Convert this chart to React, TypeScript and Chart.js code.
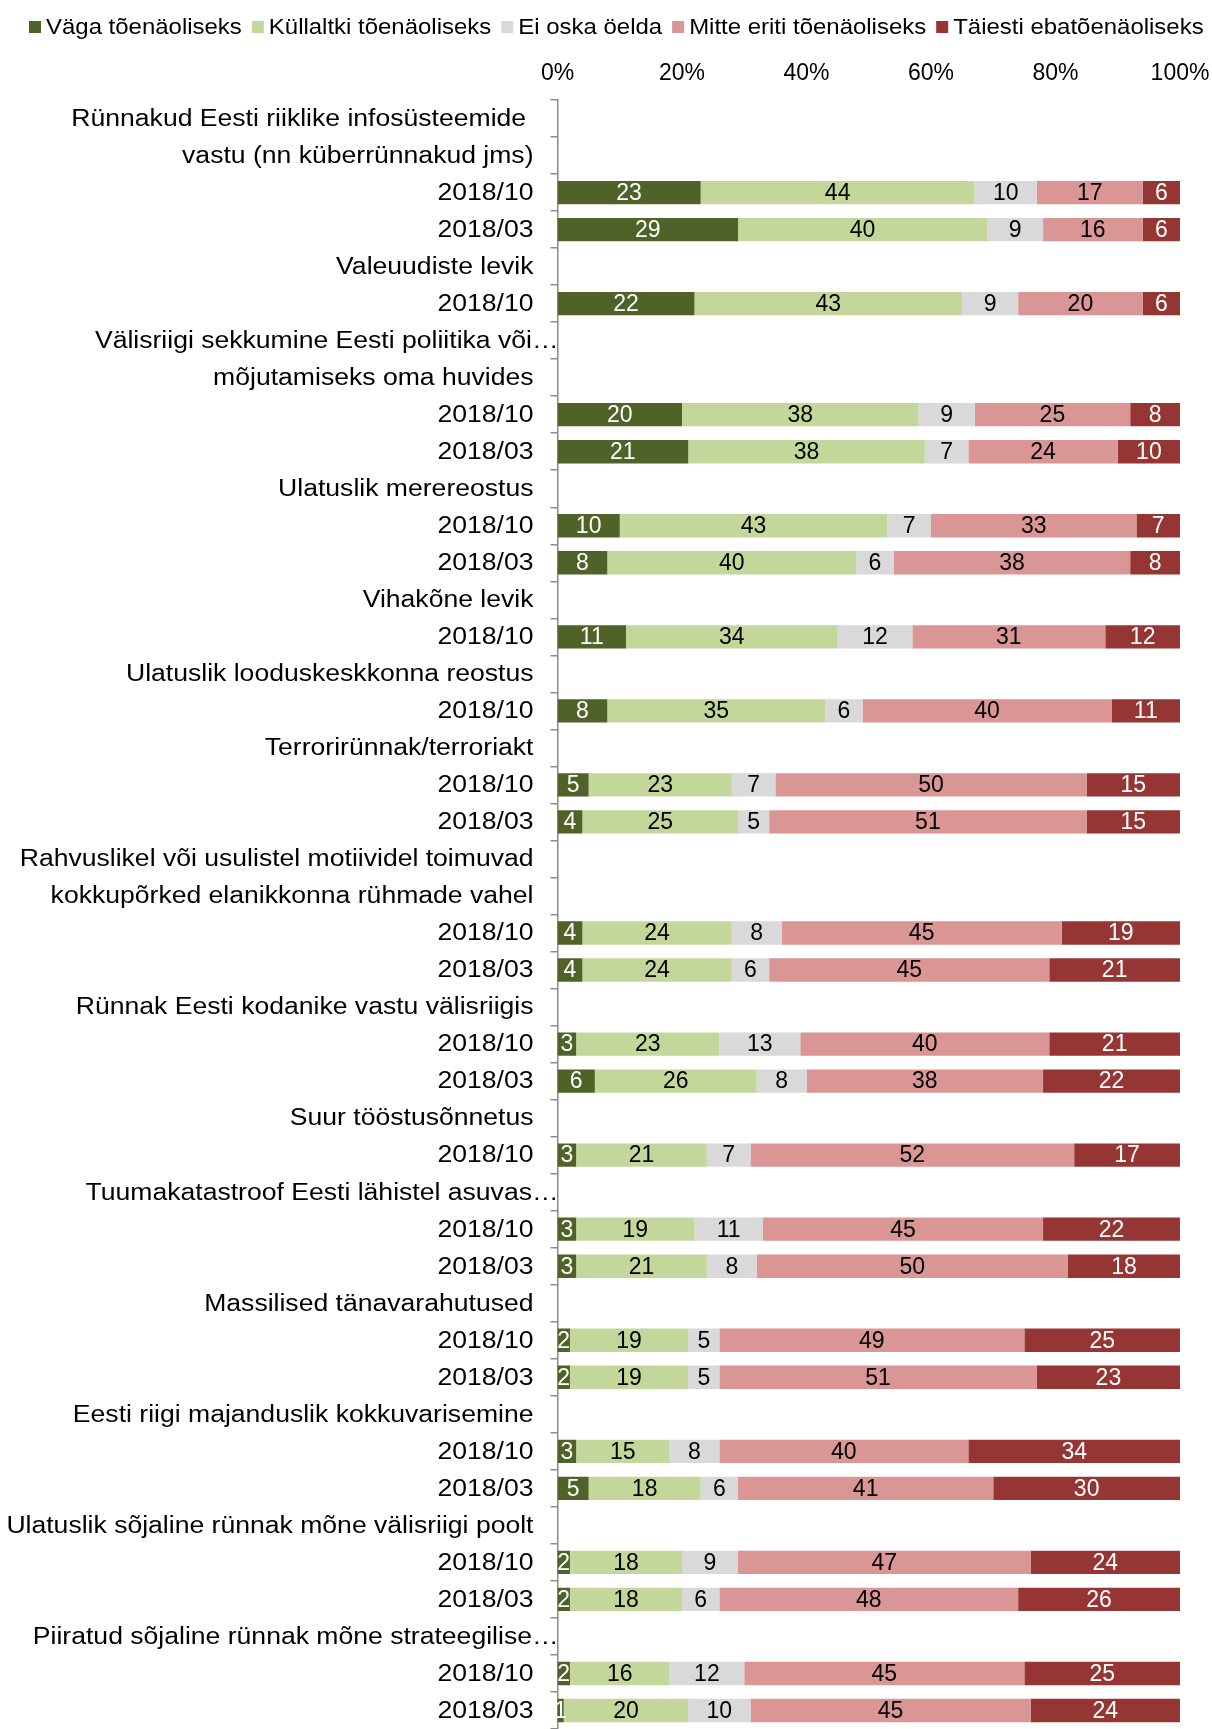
import React, { useEffect, useRef } from 'react';
import { Chart, registerables } from 'chart.js';

Chart.register(...registerables);

const rowLabels: string[] = [
  'Rünnakud Eesti riiklike infosüsteemide ',
  'vastu (nn küberrünnakud jms)',
  '2018/10',
  '2018/03',
  'Valeuudiste levik',
  '2018/10',
  'Välisriigi sekkumine Eesti poliitika või…',
  'mõjutamiseks oma huvides',
  '2018/10',
  '2018/03',
  'Ulatuslik merereostus',
  '2018/10',
  '2018/03',
  'Vihakõne levik',
  '2018/10',
  'Ulatuslik looduskeskkonna reostus',
  '2018/10',
  'Terrorirünnak/terroriakt',
  '2018/10',
  '2018/03',
  'Rahvuslikel või usulistel motiividel toimuvad',
  'kokkupõrked elanikkonna rühmade vahel',
  '2018/10',
  '2018/03',
  'Rünnak Eesti kodanike vastu välisriigis',
  '2018/10',
  '2018/03',
  'Suur tööstusõnnetus',
  '2018/10',
  'Tuumakatastroof Eesti lähistel asuvas…',
  '2018/10',
  '2018/03',
  'Massilised tänavarahutused',
  '2018/10',
  '2018/03',
  'Eesti riigi majanduslik kokkuvarisemine',
  '2018/10',
  '2018/03',
  'Ulatuslik sõjaline rünnak mõne välisriigi poolt',
  '2018/10',
  '2018/03',
  'Piiratud sõjaline rünnak mõne strateegilise…',
  '2018/10',
  '2018/03',
];

const seriesNames = [
  'Väga tõenäoliseks',
  'Küllaltki tõenäoliseks',
  'Ei oska öelda',
  'Mitte eriti tõenäoliseks',
  'Täiesti ebatõenäoliseks',
];

const vagaToenaoliseks = [null, null, 23, 29, null, 22, null, null, 20, 21, null, 10, 8, null, 11, null, 8, null, 5, 4, null, null, 4, 4, null, 3, 6, null, 3, null, 3, 3, null, 2, 2, null, 3, 5, null, 2, 2, null, 2, 1];
const kullaltkiToenaoliseks = [null, null, 44, 40, null, 43, null, null, 38, 38, null, 43, 40, null, 34, null, 35, null, 23, 25, null, null, 24, 24, null, 23, 26, null, 21, null, 19, 21, null, 19, 19, null, 15, 18, null, 18, 18, null, 16, 20];
const eiOskaOelda = [null, null, 10, 9, null, 9, null, null, 9, 7, null, 7, 6, null, 12, null, 6, null, 7, 5, null, null, 8, 6, null, 13, 8, null, 7, null, 11, 8, null, 5, 5, null, 8, 6, null, 9, 6, null, 12, 10];
const mitteEritiToenaoliseks = [null, null, 17, 16, null, 20, null, null, 25, 24, null, 33, 38, null, 31, null, 40, null, 50, 51, null, null, 45, 45, null, 40, 38, null, 52, null, 45, 50, null, 49, 51, null, 40, 41, null, 47, 48, null, 45, 45];
const taiestiEbatoenaoliseks = [null, null, 6, 6, null, 6, null, null, 8, 10, null, 7, 8, null, 12, null, 11, null, 15, 15, null, null, 19, 21, null, 21, 22, null, 17, null, 22, 18, null, 25, 23, null, 34, 30, null, 24, 26, null, 25, 24];

const seriesValues = [
  vagaToenaoliseks,
  kullaltkiToenaoliseks,
  eiOskaOelda,
  mitteEritiToenaoliseks,
  taiestiEbatoenaoliseks,
];

const seriesColors = ['#4F6228', '#C4D79B', '#D9D9D9', '#DA9694', '#963634'];
const labelColors = ['#FFFFFF', '#000000', '#000000', '#000000', '#FFFFFF'];

const FONT = "'Liberation Sans', Arial, Helvetica, sans-serif";

export default function App() {
  const ref = useRef<HTMLCanvasElement>(null);

  useEffect(() => {
    document.body.style.margin = '0';
    const canvas = ref.current;
    if (!canvas) return;

    const barLabels = {
      id: 'barLabels',
      afterDatasetsDraw(chart: any) {
        const ctx = chart.ctx;
        ctx.save();
        ctx.font = `23px ${FONT}`;
        ctx.textAlign = 'center';
        ctx.textBaseline = 'middle';
        chart.data.datasets.forEach((ds: any, di: number) => {
          const meta = chart.getDatasetMeta(di);
          meta.data.forEach((el: any, j: number) => {
            const v = ds.data[j];
            if (v === null || v === undefined) return;
            const p = el.getProps(['x', 'y', 'base'], true);
            ctx.fillStyle = labelColors[di];
            ctx.fillText(String(v), (p.x + p.base) / 2, p.y + 1);
          });
        });
        ctx.restore();
      },
    };

    const yLabels = {
      id: 'yLabels',
      afterDraw(chart: any) {
        const ctx = chart.ctx;
        const yScale = chart.scales.y;
        const left = chart.chartArea.left;
        ctx.save();
        ctx.font = `23px ${FONT}`;
        ctx.textAlign = 'right';
        ctx.textBaseline = 'middle';
        ctx.fillStyle = '#000000';
        rowLabels.forEach((text, i) => {
          const y = yScale.getPixelForTick(i);
          const rx = text.endsWith('…') ? left + 1 : left - 24;
          ctx.save();
          ctx.translate(rx, y + 1);
          ctx.scale(1.155, 1);
          ctx.fillText(text, 0, 0);
          ctx.restore();
        });
        ctx.restore();
      },
    };

    const legendRow = {
      id: 'legendRow',
      afterDraw(chart: any) {
        const ctx = chart.ctx;
        const stretch = 1.065;
        const cy = 27;
        let x = 29;
        ctx.save();
        ctx.font = `22.5px ${FONT}`;
        ctx.textAlign = 'left';
        ctx.textBaseline = 'middle';
        chart.data.datasets.forEach((ds: any) => {
          ctx.fillStyle = ds.backgroundColor;
          ctx.fillRect(x, cy - 6, 12, 12);
          const tx = x + 17;
          ctx.fillStyle = '#000000';
          ctx.save();
          ctx.translate(tx, cy + 1);
          ctx.scale(stretch, 1);
          ctx.fillText(ds.label, 0, 0);
          ctx.restore();
          x = tx + ctx.measureText(ds.label).width * stretch + 10;
        });
        ctx.restore();
      },
    };

    const chart = new Chart(canvas, {
      type: 'bar',
      data: {
        labels: rowLabels,
        datasets: seriesNames.map((name, i) => ({
          label: name,
          data: seriesValues[i],
          backgroundColor: seriesColors[i],
          borderWidth: 0,
          categoryPercentage: 1,
          barPercentage: 0.63,
          stack: 's',
        })),
      },
      options: {
        indexAxis: 'y',
        responsive: false,
        animation: false,
        color: '#000000',
        layout: { padding: { top: 48.5, left: 0, right: 32, bottom: 0 } },
        plugins: {
          legend: { display: false },
          tooltip: { enabled: false },
        },
        scales: {
          x: {
            position: 'top',
            stacked: true,
            min: 0,
            max: 100,
            grid: { display: false, drawTicks: false },
            border: { display: false },
            ticks: {
              stepSize: 20,
              padding: 13,
              color: '#000000',
              font: { size: 23, family: FONT },
              callback: (v: any) => `${v}%`,
            },
            afterFit: (scale: any) => {
              scale.height = 51.5;
              scale.paddingLeft = 0;
              scale.paddingRight = 0;
            },
          },
          y: {
            stacked: true,
            grid: {
              offset: true,
              drawOnChartArea: false,
              drawTicks: true,
              tickLength: 7,
              color: '#8C8C8C',
              lineWidth: 1.5,
            },
            border: { display: true, color: '#8C8C8C', width: 1.5 },
            ticks: { display: false, autoSkip: false },
            afterFit: (scale: any) => {
              scale.width = 557.5;
            },
          },
        },
      },
      plugins: [barLabels, yLabels, legendRow],
    } as any);

    return () => chart.destroy();
  }, []);

  return (
    <div style={{ width: 1212, height: 1729, background: '#FFFFFF' }}>
      <canvas ref={ref} width={1212} height={1729} style={{ display: 'block' }} />
    </div>
  );
}
